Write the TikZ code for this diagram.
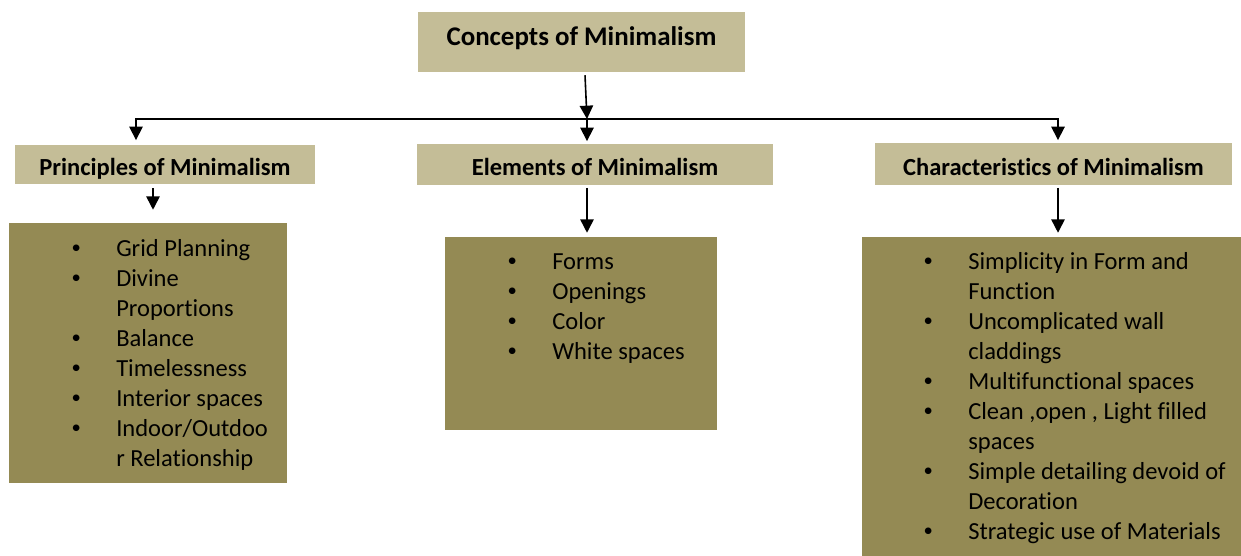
\documentclass[tikz,border=0pt]{standalone}
\usepackage{fontspec}
\setmainfont[Ligatures=NoCommon]{Carlito}
\usetikzlibrary{arrows.meta}
\usetikzlibrary{positioning}
\usetikzlibrary{fit}
\usetikzlibrary{calc}

\definecolor{tanbox}{HTML}{C4BD97}
\definecolor{olivebox}{HTML}{948A54}
\newcommand{\bul}{\makebox[0pt]{\raisebox{0.1em}{\fontsize{14}{14}\selectfont\textbullet}}}

\tikzset{
headbox/.style={rectangle, fill=tanbox, inner sep=0pt, text height=17pt, text depth=0pt, font=\fontsize{18.4}{22}\selectfont\bfseries},
listbox/.style={rectangle, fill=olivebox, inner sep=0pt},
listtext/.style={anchor=north west, inner sep=0pt, font=\fontsize{18.4}{22.5}\selectfont},
arr/.style={-{Triangle[width=10pt,length=10pt]}, line width=1.2pt},
}

\begin{document}
\begin{tikzpicture}[x=0.75pt, y=-0.75pt]
\useasboundingbox (0,0) rectangle (1241,556);

% headings
\node[headbox, minimum width=245.25pt, minimum height=45pt, text height=6pt, font=\fontsize{20.2}{24}\selectfont\bfseries] (concepts) at (581.5,42) {Concepts of Minimalism};
\node[headbox, minimum width=225pt, minimum height=29.25pt] (principles) at (165,164.5) {Principles of Minimalism};
\node[headbox, minimum width=267pt, minimum height=30.75pt] (elements) at (595,164.5) {Elements of Minimalism};
\node[headbox, minimum width=267.75pt, minimum height=31.5pt] (characteristics) at (1053.5,164) {Characteristics of Minimalism};

% list boxes
\node[listbox, fit={(9,223) (287,483)}] (pbox) {};
\node[listbox, fit={(445,237) (717,430)}] (ebox) {};
\node[listbox, fit={(862,237) (1260,580)}] (cbox) {};

\node[listtext] (plist) at (76,235) {\begin{tabular}{@{}p{30pt}@{}l@{}}
\bul & Grid Planning\\
\bul & Divine\\
     & Proportions\\
\bul & Balance\\
\bul & Timelessness\\
\bul & Interior spaces\\
\bul & Indoor/Outdoo\\
     & r Relationship\\
\end{tabular}};
\node[listtext] (elist) at (512,248) {\begin{tabular}{@{}p{30pt}@{}l@{}}
\bul & Forms\\
\bul & Openings\\
\bul & Color\\
\bul & White spaces\\
\end{tabular}};
\node[listtext] (clist) at (928,248) {\begin{tabular}{@{}p{30pt}@{}l@{}}
\bul & Simplicity in Form and\\
     & Function\\
\bul & Uncomplicated wall\\
     & claddings\\
\bul & Multifunctional spaces\\
\bul & Clean ,open , Light filled\\
     & spaces\\
\bul & Simple detailing devoid of\\
     & Decoration\\
\bul & Strategic use of Materials\\
\end{tabular}};

% connectors
\coordinate (hub) at (587,119);
\coordinate (lft) at (136,119);
\coordinate (rgt) at (1058,119);
\coordinate (pdrop) at (153,0);

\draw[arr] ($(concepts.south -| hub)+(-2,3)$) -- (hub);
\draw[arr, shorten >=3.5pt] (hub) -| (principles.north -| lft);
\draw[arr, shorten >=2pt] (hub) -| (characteristics.north -| rgt);
\draw[arr, shorten >=2pt] (hub) -- (elements.north -| hub);

\draw[arr, shorten <=3pt, shorten >=9.75pt] (principles.south -| pdrop) -- (pbox.north -| pdrop);
\draw[arr, shorten <=2pt, shorten >=3pt] (elements.south -| hub) -- (ebox.north -| hub);
\draw[arr, shorten <=2pt, shorten >=3pt] (characteristics.south -| rgt) -- (cbox.north -| rgt);
\end{tikzpicture}
\end{document}
